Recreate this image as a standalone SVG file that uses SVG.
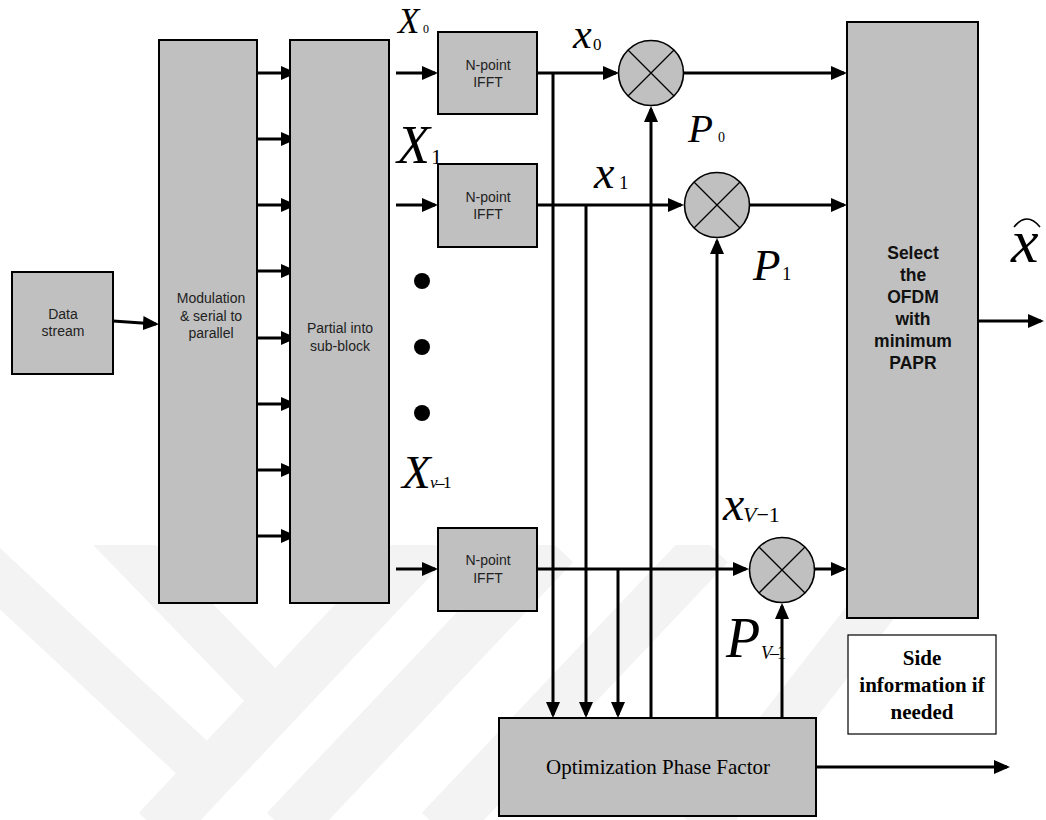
<svg xmlns="http://www.w3.org/2000/svg" width="1046" height="820" viewBox="0 0 1046 820">
<defs>
<marker id="ah" markerUnits="userSpaceOnUse" markerWidth="16" markerHeight="14" viewBox="0 0 16 14" refX="13" refY="7" orient="auto"><path d="M0,0 L16,7 L0,14 Z" fill="#000"/></marker>
<clipPath id="wmclip"><rect x="0" y="545" width="1046" height="275"/></clipPath>
</defs>
<style>
.box{fill:#c0c0c0;stroke:#000;stroke-width:2}
.mul{fill:#c0c0c0;stroke:#000;stroke-width:1.6}
.xl{stroke:#000;stroke-width:1.3}
.c{fill:none;stroke:#000;stroke-width:3;marker-end:url(#ah)}
.s{font-family:"Liberation Sans",Arial,sans-serif;font-size:14px;fill:#222;text-anchor:middle}
.b{font-family:"Liberation Sans",Arial,sans-serif;font-size:17.5px;font-weight:bold;fill:#111;text-anchor:middle}
.t{font-family:"Liberation Serif","Times New Roman",serif;fill:#000}
.i{font-style:italic}
.wm{stroke:#f3f3f3;fill:none}
</style>
<rect width="1046" height="820" fill="#fff"/>
<g id="watermark" clip-path="url(#wmclip)">
<path class="wm" stroke-width="45" d="M-20,560 L200,765"/>
<path class="wm" stroke-width="45" d="M110,530 L265,690"/>
<path class="wm" stroke-width="50" d="M157,830 L430,540"/>
<path class="wm" stroke-width="50" d="M285,830 L555,545"/>
<path class="wm" stroke-width="50" d="M440,830 L710,545"/>
<path class="wm" stroke-width="45" d="M700,830 L880,600"/>
</g>
<g id="connectors">
<path class="c" d="M113,321 L156,324"/>
<path class="c" d="M257,73 L294,73"/>
<path class="c" d="M257,139 L294,139"/>
<path class="c" d="M257,205 L294,205"/>
<path class="c" d="M257,271 L294,271"/>
<path class="c" d="M257,338 L294,338"/>
<path class="c" d="M257,404 L294,404"/>
<path class="c" d="M257,470 L294,470"/>
<path class="c" d="M257,536 L294,536"/>
<path class="c" d="M396,73 L435,73"/>
<path class="c" d="M396,205 L435,205"/>
<path class="c" d="M396,569 L435,569"/>
<path class="c" d="M537,73 L616,73"/>
<path class="c" d="M537,205 L681,205"/>
<path class="c" d="M537,569 L746,569"/>
<path class="c" d="M683,73 L844,73"/>
<path class="c" d="M749,205 L844,205"/>
<path class="c" d="M814,569 L844,569"/>
<path class="c" d="M978,321 L1041,321"/>
<path class="c" d="M553,73 L553,715"/>
<path class="c" d="M586,205 L586,715"/>
<path class="c" d="M618,569 L618,715"/>
<path class="c" d="M651,718 L651,109"/>
<path class="c" d="M717,718 L717,241"/>
<path class="c" d="M782,718 L782,606"/>
<path class="c" d="M816,767 L1007,767"/>
</g>
<g id="data-stream">
<rect class="box" x="12" y="272" width="101" height="102"/>
<text class="s" x="63" y="319">Data</text>
<text class="s" x="63" y="336">stream</text>
</g>
<g id="modulation">
<rect class="box" x="159" y="40" width="98" height="563"/>
<text class="s" x="211" y="303">Modulation</text>
<text class="s" x="211" y="321">&amp; serial to</text>
<text class="s" x="211" y="338">parallel</text>
</g>
<g id="partial">
<rect class="box" x="290" y="40" width="99" height="563"/>
<text class="s" x="340" y="333">Partial into</text>
<text class="s" x="340" y="351">sub-block</text>
</g>
<g id="ifft0">
<rect class="box" x="438" y="32" width="99" height="82"/>
<text class="s" x="488" y="70">N-point</text>
<text class="s" x="488" y="87">IFFT</text>
</g>
<g id="ifft1">
<rect class="box" x="438" y="164" width="99" height="83"/>
<text class="s" x="488" y="202">N-point</text>
<text class="s" x="488" y="219">IFFT</text>
</g>
<g id="ifftV">
<rect class="box" x="438" y="528" width="99" height="83"/>
<text class="s" x="488" y="565">N-point</text>
<text class="s" x="488" y="583">IFFT</text>
</g>
<g id="mult0">
<circle class="mul" cx="651" cy="73" r="32.5"/>
<path class="xl" d="M628,50 L674,96 M674,50 L628,96"/>
</g>
<g id="mult1">
<circle class="mul" cx="717" cy="205" r="32.5"/>
<path class="xl" d="M694,182 L740,228 M740,182 L694,228"/>
</g>
<g id="multV">
<circle class="mul" cx="782" cy="570" r="32.5"/>
<path class="xl" d="M759,547 L805,593 M805,547 L759,593"/>
</g>
<g id="select">
<rect class="box" x="847" y="22" width="131" height="596"/>
<text class="b" x="913" y="259">Select</text>
<text class="b" x="913" y="281">the</text>
<text class="b" x="913" y="303">OFDM</text>
<text class="b" x="913" y="325">with</text>
<text class="b" x="913" y="347">minimum</text>
<text class="b" x="913" y="369">PAPR</text>
</g>
<g id="side-info">
<rect x="848" y="635" width="148" height="99" fill="#fff" stroke="#000" stroke-width="1.2"/>
<text class="t" x="922" y="665" font-size="21" font-weight="bold" text-anchor="middle">Side</text>
<text class="t" x="922" y="692" font-size="21" font-weight="bold" text-anchor="middle">information if</text>
<text class="t" x="922" y="719" font-size="21" font-weight="bold" text-anchor="middle">needed</text>
</g>
<g id="optimization">
<rect class="box" x="499" y="718" width="317" height="98"/>
<text class="t" x="658" y="774" font-size="21" text-anchor="middle">Optimization Phase Factor</text>
</g>
<g id="dots">
<circle cx="422" cy="281" r="8"/>
<circle cx="422" cy="347" r="8"/>
<circle cx="422" cy="413" r="8"/>
</g>
<g id="labels">
<text class="t i" x="398" y="33" font-size="35">X</text>
<text class="t" x="423" y="33" font-size="12">0</text>
<text class="t i" x="397" y="163" font-size="54">X</text>
<text class="t" x="431" y="164" font-size="22">1</text>
<text class="t i" x="402" y="488" font-size="47">X</text>
<text class="t" x="430" y="488" font-size="17" letter-spacing="-1.5"><tspan font-style="italic">v</tspan>–1</text>
<text class="t i" x="573" y="48" font-size="42">x</text>
<text class="t" x="593" y="50" font-size="17">0</text>
<text class="t i" x="594" y="188" font-size="46">x</text>
<text class="t" x="619" y="189" font-size="19">1</text>
<text class="t i" x="723" y="520" font-size="48">x</text>
<text class="t" x="743" y="522" font-size="22"><tspan font-style="italic">V</tspan>−1</text>
<text class="t i" x="688" y="142" font-size="41">P</text>
<text class="t" x="718" y="142" font-size="14">0</text>
<text class="t i" x="753" y="280" font-size="45">P</text>
<text class="t" x="782" y="280" font-size="19">1</text>
<text class="t i" x="726" y="657" font-size="56">P</text>
<text class="t" x="761" y="659" font-size="18" letter-spacing="-2"><tspan font-style="italic">V</tspan>–1</text>
<text class="t i" x="1011" y="262" font-size="62">x</text>
<path d="M1014,227 Q1027,211 1040,227" fill="none" stroke="#000" stroke-width="1.6"/>
</g>
</svg>
